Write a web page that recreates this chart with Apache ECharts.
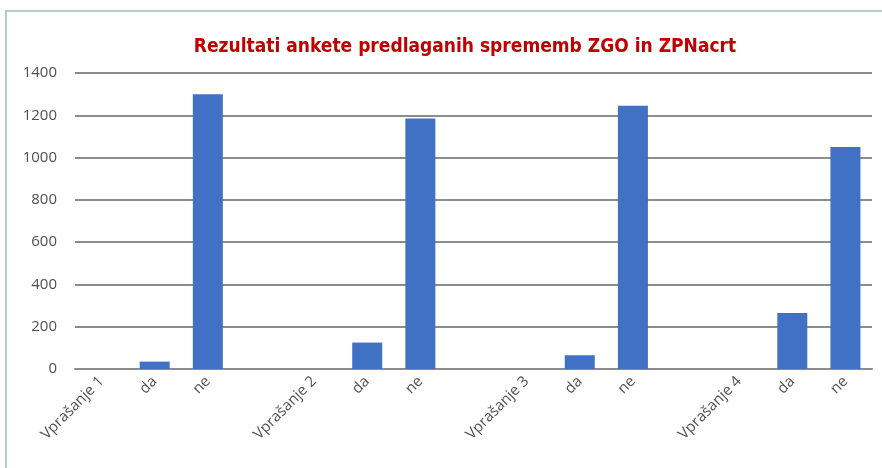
<!DOCTYPE html>
<html>
<head>
<meta charset="utf-8">
<script src="https://cdn.jsdelivr.net/npm/echarts@6/dist/echarts.min.js"></script>
<style>
  html, body { margin: 0; padding: 0; background: #fff; }
  #wrap { position: relative; width: 882px; height: 468px; overflow: hidden; }
  #chart { width: 882px; height: 468px; }
  #frame { position: absolute; left: 5px; top: 10px; width: 890px; height: 470px;
           border: 2px solid #b9c9d2; pointer-events: none; }
</style>
</head>
<body>
<div id="wrap">
  <div id="chart"></div>
  <div id="frame"></div>
</div>
<script>
// categories, blank ones keep the gap between questions
let categories = ['Vprašanje 1', 'da', 'ne', '', 'Vprašanje 2', 'da', 'ne', '',
                  'Vprašanje 3', 'da', 'ne', '', 'Vprašanje 4', 'da', 'ne']
let answers = [0, 35, 1300, 0, 0, 125, 1185, 0, 0, 65, 1245, 0, 0, 265, 1050]
let yTicks = [0, 200, 400, 600, 800, 1000, 1200, 1400]

var chart = echarts.init(document.getElementById('chart'))
chart.setOption({
    animation: false,
    title: {
        text: 'Rezultati ankete predlaganih sprememb ZGO in ZPNacrt',
        left: 460,
        top: 33,
        textAlign: 'center',
        textStyle: {
            color: '#c00000',
            fontSize: 19,
            fontWeight: 'bold',
            fontFamily: '"Liberation Sans Narrow", "DejaVu Sans Condensed", sans-serif'
        }
    },
    grid: {
        left: 75,
        right: 10,
        top: 73,
        bottom: 99
    },
    xAxis: {
        type: 'category',
        data: categories,
        axisTick: { show: false },
        axisLine: { lineStyle: { color: '#8c8c8c', width: 2 } },
        axisLabel: {
            interval: 0,
            rotate: 45,
            margin: 10,
            color: '#505050',
            fontSize: 15,
            fontFamily: '"Open Sans", sans-serif'
        }
    },
    yAxis: {
        type: 'value',
        min: yTicks[0],
        max: yTicks[yTicks.length - 1],
        interval: 200,
        axisLine: { show: false },
        axisTick: { show: false },
        axisLabel: {
            margin: 18,
            color: '#505050',
            fontSize: 15,
            fontFamily: '"Open Sans", sans-serif',
            formatter: function (v) { return String(v) }
        },
        splitLine: { lineStyle: { color: '#8c8c8c', width: 2 } }
    },
    series: [{
        type: 'bar',
        data: answers,
        barWidth: 30,
        itemStyle: { color: '#4071c4' }
    }]
})
</script>
</body>
</html>
